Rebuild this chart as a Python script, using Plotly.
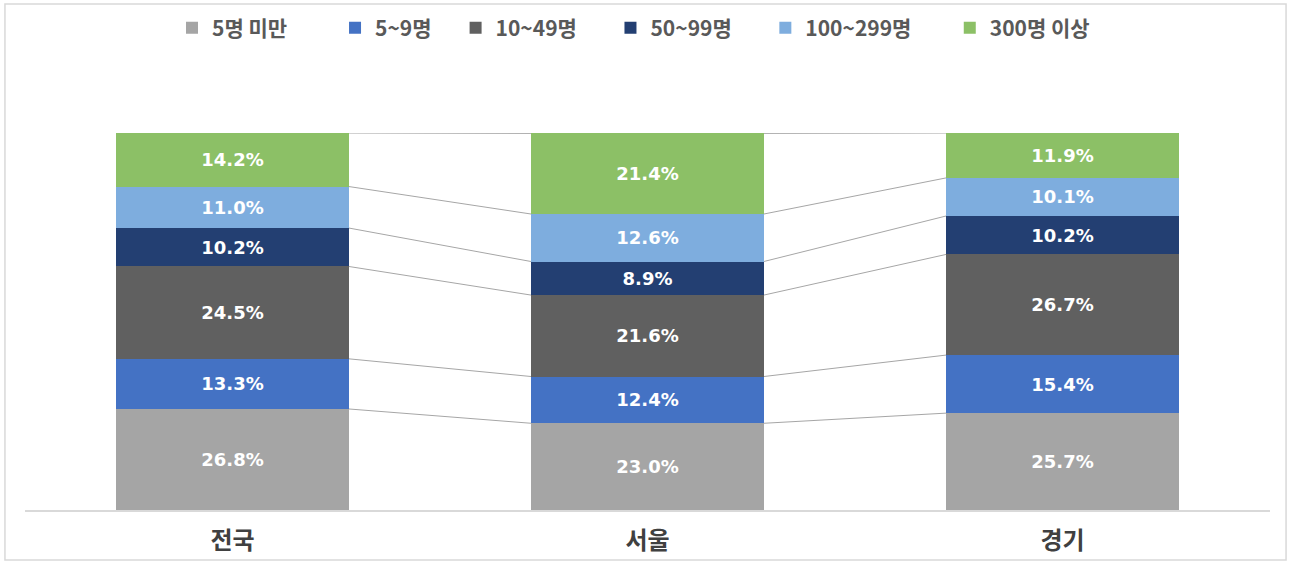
import plotly.graph_objects as go
import numpy as np

# 지역별 사업체 규모 비율 (%)
regions = ['전국', '서울', '경기']
series_names = ['5명 미만', '5~9명', '10~49명', '50~99명', '100~299명', '300명 이상']
v_under5 = [26.8, 23.0, 25.7]
v_5_9 = [13.3, 12.4, 15.4]
v_10_49 = [24.5, 21.6, 26.7]
v_50_99 = [10.2, 8.9, 10.2]
v_100_299 = [11.0, 12.6, 10.1]
v_300 = [14.2, 21.4, 11.9]

values = [v_under5, v_5_9, v_10_49, v_50_99, v_100_299, v_300]
colors = ['#A5A5A5', '#4472C4', '#606060', '#233F72', '#7EADDE', '#8CC066']
# 범례 간격 맞추기용 공백 개수
legend_pad = [9, 4, 6, 6, 7, 0]

bar_width = 0.56

fig = go.Figure()
for name, vals, col, pad in zip(series_names, values, colors, legend_pad):
    fig.add_trace(go.Bar(
        x=regions, y=vals, name=name + '\u00a0' * pad,
        marker=dict(color=col, line=dict(width=0)),
        width=bar_width,
        texttemplate='%{y:.1f}%',
        textposition='inside', insidetextanchor='middle', textangle=0,
        textfont=dict(color='white', size=18, family='DejaVu Sans', weight='bold'),
        hoverinfo='skip',
    ))

# 계열선 (series lines) connecting segment tops between bars
cum = np.cumsum(np.array(values), axis=0)
shapes = []
for level in cum:
    for i in range(len(regions) - 1):
        shapes.append(dict(
            type='line', xref='x', yref='y', layer='below',
            x0=i + bar_width / 2, x1=i + 1 - bar_width / 2,
            y0=level[i], y1=level[i + 1],
            line=dict(color='#A6A6A6', width=1),
        ))

# chart border
shapes.append(dict(
    type='rect', xref='paper', yref='paper',
    x0=-0.0161, x1=1.0129, y0=-0.1326, y1=1.342,
    line=dict(color='#D9D9D9', width=1.5), fillcolor='rgba(0,0,0,0)',
))

fig.update_layout(
    barmode='stack',
    width=1291, height=564,
    margin=dict(l=25, r=21, t=133, b=54, autoexpand=False),
    paper_bgcolor='white', plot_bgcolor='white',
    font=dict(family='Noto Sans CJK KR', color='#404040'),
    shapes=shapes,
    showlegend=True,
    legend=dict(
        orientation='h', xref='container', yref='container',
        x=172 / 1291, xanchor='left', y=1 - 28 / 564, yanchor='middle',
        font=dict(size=21, color='#595959', family='Noto Sans CJK KR', weight='bold'),
        itemwidth=30, traceorder='normal',
    ),
    xaxis=dict(
        range=[-0.5, 2.5], showgrid=False, showline=True, linecolor='#D9D9D9', linewidth=2,
        tickfont=dict(size=24, color='#404040', family='Noto Sans CJK KR', weight='bold'),
        ticks='', ticklabelstandoff=8, automargin=False,
    ),
    yaxis=dict(range=[0, 100], visible=False, showgrid=False, automargin=False),
)

fig.write_html('out.html', config={'displayModeBar': False},
               post_script="document.body.style.margin='0';")
